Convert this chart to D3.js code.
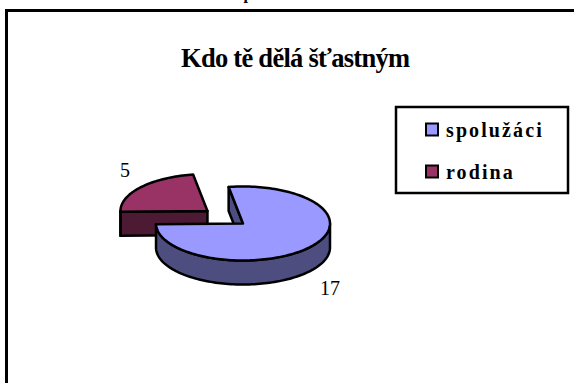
<!DOCTYPE html>
<html>
<head>
<meta charset="utf-8">
<title>Kdo tě dělá šťastným</title>
<script src="https://d3js.org/d3.v7.min.js"></script>
<style>
  html, body { margin: 0; padding: 0; background: #fff; }
  svg { display: block; }
  text { font-family: "Liberation Serif", serif; fill: #000; }
</style>
</head>
<body>
<svg id="chart" width="574" height="383"></svg>
<script>
var categories = ["spolužáci", "rodina"];
var values = [17, 5];
var colors = ["#9999ff", "#993366"];
var sideColors = ["#4d4d80", "#4d1a33"];

var svg = d3.select("#chart");

// cut off line of text from the page above the chart
svg.append("text").attr("x", 248).attr("y", -1.5)
    .attr("text-anchor", "middle").style("font-size", "16px").style("font-weight", "bold").text("p");

// outer frame
svg.append("rect").attr("x", 6.5).attr("y", 10.5).attr("width", 572).attr("height", 378)
    .attr("fill", "#fff").attr("stroke", "#000").attr("stroke-width", 3);

svg.append("text").attr("x", 295.5).attr("y", 67)
    .attr("text-anchor", "middle").attr("textLength", 229)
    .style("font-size", "26.5px").style("font-weight", "bold").text("Kdo tě dělá šťastným");

// pie, flattened by two separate scales so that it looks tilted
var cx = 243, cy = 223.5, depth = 24;
var px = d3.scaleLinear().domain([-1, 1]).range([cx - 87, cx + 87]);
var py = d3.scaleLinear().domain([-1, 1]).range([cy - 37, cy + 37]);

var pie = d3.pie().sort(null).startAngle(-9.5 * Math.PI / 180).endAngle((360 - 9.5) * Math.PI / 180);
var arcs = pie(values);

var explode = [0, 0.53];
function shift(d, i) {
  var mid = (d.startAngle + d.endAngle) / 2;
  return [Math.sin(mid) * explode[i], -Math.cos(mid) * explode[i]];
}
function angles(a0, a1) {
  var n = Math.max(2, Math.ceil(Math.abs(a1 - a0) / 0.03));
  return d3.range(n + 1).map(function(k) { return a0 + (a1 - a0) * k / n; });
}
function pt(a, off, drop) {
  return [px(Math.sin(a) + off[0]), py(-Math.cos(a) + off[1]) + drop];
}
function centre(off, drop) {
  return [px(off[0]), py(off[1]) + drop];
}
var line = d3.line();

function drawSlice(d, i) {
  var off = shift(d, i);
  var g = svg.append("g").attr("stroke", "#000").attr("stroke-width", 2.5).attr("stroke-linejoin", "round");

  // flat wall along the cut that faces the viewer
  var p = pt(d.startAngle, off, 0), c = centre(off, 0);
  g.append("path").attr("fill", sideColors[i]).attr("d", line([
    p, c, [c[0], c[1] + depth], [p[0], p[1] + depth]
  ]) + "Z");

  // outer wall, only the front half of the ellipse shows
  var from = Math.max(d.startAngle, Math.PI / 2);
  var to = Math.min(d.endAngle, 3 * Math.PI / 2);
  if (to > from) {
    var top = angles(from, to).map(function(a) { return pt(a, off, 0); });
    var bottom = angles(to, from).map(function(a) { return pt(a, off, depth); });
    g.append("path").attr("fill", sideColors[i]).attr("d", line(top.concat(bottom)) + "Z");
  }

  // top face
  var rim = angles(d.startAngle, d.endAngle).map(function(a) { return pt(a, off, 0); });
  g.append("path").attr("fill", colors[i]).attr("d", line([centre(off, 0)].concat(rim)) + "Z");
}

// back slice first, the big one covers its lower part
drawSlice(arcs[1], 1);
drawSlice(arcs[0], 0);

// value labels
svg.append("text").attr("x", 125).attr("y", 177).attr("text-anchor", "middle")
    .style("font-size", "20px").text(values[1]);
svg.append("text").attr("x", 330).attr("y", 295).attr("text-anchor", "middle")
    .style("font-size", "20px").text(values[0]);

// legend
svg.append("rect").attr("x", 396).attr("y", 107).attr("width", 172).attr("height", 86)
    .attr("fill", "#fff").attr("stroke", "#000").attr("stroke-width", 2.5);

var legendY = d3.scalePoint().domain(categories).range([129.5, 171.5]);
var legend = svg.selectAll(".legend").data(categories).enter().append("g").attr("class", "legend");
legend.append("rect")
    .attr("x", 426).attr("y", function(d) { return legendY(d) - 6; })
    .attr("width", 12).attr("height", 12)
    .attr("fill", function(d, i) { return colors[i]; })
    .attr("stroke", "#000").attr("stroke-width", 2);
legend.append("text")
    .attr("x", 446).attr("y", function(d) { return legendY(d) + 7; })
    .style("font-size", "20px").style("font-weight", "bold").style("letter-spacing", "2.1px")
    .text(function(d) { return d; });
</script>
</body>
</html>
